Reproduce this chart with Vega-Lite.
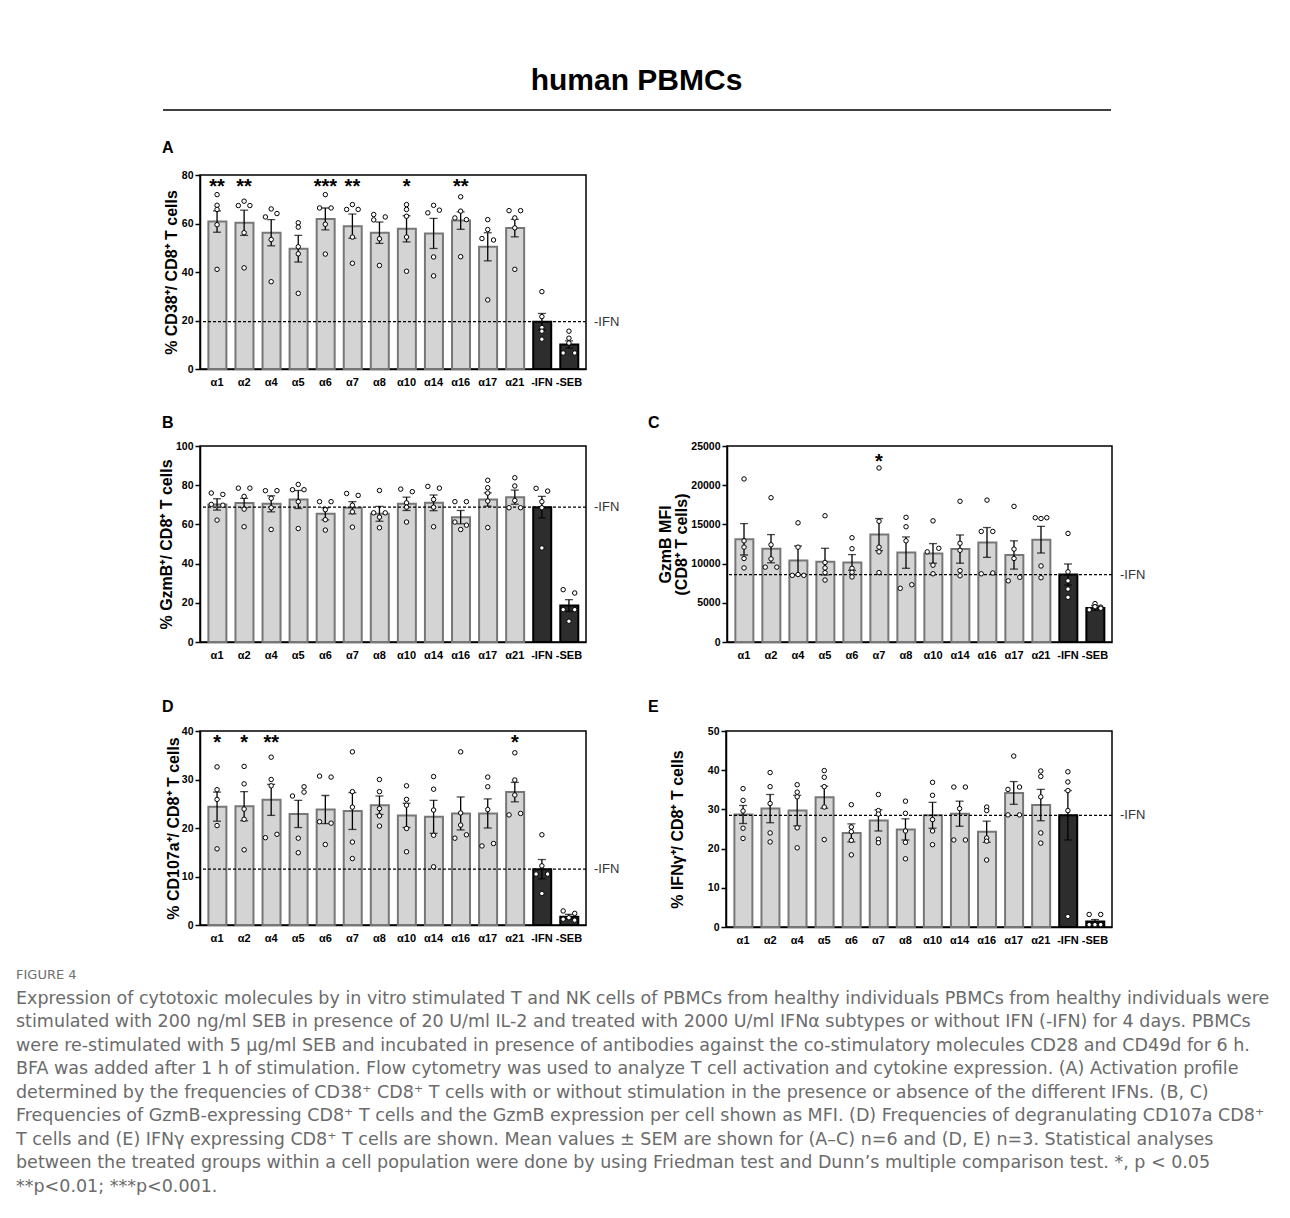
{
"$schema": "https://vega.github.io/schema/vega-lite/v6.json",
"autosize": {"type": "pad"},
"padding": {"left": 16, "top": 66, "right": 5, "bottom": 0},
"background": "#ffffff",
"config": {
  "font": "Liberation Sans",
  "view": {"stroke": "#000000", "strokeWidth": 1.5},
  "axis": {"grid": false, "domainColor": "#000000", "domainWidth": 1.5, "tickColor": "#000000", "tickWidth": 1.5, "labelColor": "#000000", "labelFont": "Liberation Sans", "labelFontWeight": "bold", "titleColor": "#000000", "titleFont": "Liberation Sans", "titleFontWeight": "bold", "labelOverlap": false},
  "axisX": {"ticks": false, "labelFontSize": 11, "labelPadding": 7, "labelAngle": 0},
  "axisY": {"tickSize": 5, "labelFontSize": 10.5, "labelPadding": 2, "titleFontSize": 16, "titleLineHeight": 16, "labelOverlap": false}
},
"datasets": {
"summary": [
{"panel":"A","group":"α1","mean":60.8,"sem":4.4,"sig":"**"},
{"panel":"A","group":"α2","mean":60.3,"sem":5.2,"sig":"**"},
{"panel":"A","group":"α4","mean":56.2,"sem":5.4,"sig":""},
{"panel":"A","group":"α5","mean":49.6,"sem":5.5,"sig":""},
{"panel":"A","group":"α6","mean":61.9,"sem":4.5,"sig":"***"},
{"panel":"A","group":"α7","mean":58.9,"sem":5.0,"sig":"**"},
{"panel":"A","group":"α8","mean":56.2,"sem":4.4,"sig":""},
{"panel":"A","group":"α10","mean":57.8,"sem":5.4,"sig":"*"},
{"panel":"A","group":"α14","mean":55.9,"sem":6.2,"sig":""},
{"panel":"A","group":"α16","mean":61.2,"sem":3.6,"sig":"**"},
{"panel":"A","group":"α17","mean":50.4,"sem":5.8,"sig":""},
{"panel":"A","group":"α21","mean":58.1,"sem":3.6,"sig":""},
{"panel":"A","group":"-IFN","mean":19.5,"sem":3.4,"sig":""},
{"panel":"A","group":"-SEB","mean":10.1,"sem":1.5,"sig":""},
{"panel":"B","group":"α1","mean":70.2,"sem":2.9,"sig":""},
{"panel":"B","group":"α2","mean":70.9,"sem":2.4,"sig":""},
{"panel":"B","group":"α4","mean":70.5,"sem":4.1,"sig":""},
{"panel":"B","group":"α5","mean":72.7,"sem":4.6,"sig":""},
{"panel":"B","group":"α6","mean":65.4,"sem":3.1,"sig":""},
{"panel":"B","group":"α7","mean":68.5,"sem":3.1,"sig":""},
{"panel":"B","group":"α8","mean":65.4,"sem":3.8,"sig":""},
{"panel":"B","group":"α10","mean":70.5,"sem":3.4,"sig":""},
{"panel":"B","group":"α14","mean":71.0,"sem":4.0,"sig":""},
{"panel":"B","group":"α16","mean":63.7,"sem":3.4,"sig":""},
{"panel":"B","group":"α17","mean":72.7,"sem":3.4,"sig":""},
{"panel":"B","group":"α21","mean":73.9,"sem":3.6,"sig":""},
{"panel":"B","group":"-IFN","mean":68.8,"sem":5.5,"sig":""},
{"panel":"B","group":"-SEB","mean":18.6,"sem":3.0,"sig":""},
{"panel":"C","group":"α1","mean":13100,"sem":2000,"sig":""},
{"panel":"C","group":"α2","mean":11900,"sem":1800,"sig":""},
{"panel":"C","group":"α4","mean":10400,"sem":1850,"sig":""},
{"panel":"C","group":"α5","mean":10250,"sem":1700,"sig":""},
{"panel":"C","group":"α6","mean":10150,"sem":1000,"sig":""},
{"panel":"C","group":"α7","mean":13700,"sem":2050,"sig":"*"},
{"panel":"C","group":"α8","mean":11400,"sem":2000,"sig":""},
{"panel":"C","group":"α10","mean":11300,"sem":1250,"sig":""},
{"panel":"C","group":"α14","mean":11850,"sem":1800,"sig":""},
{"panel":"C","group":"α16","mean":12700,"sem":1900,"sig":""},
{"panel":"C","group":"α17","mean":11100,"sem":1800,"sig":""},
{"panel":"C","group":"α21","mean":13050,"sem":1700,"sig":""},
{"panel":"C","group":"-IFN","mean":8600,"sem":1350,"sig":""},
{"panel":"C","group":"-SEB","mean":4350,"sem":300,"sig":""},
{"panel":"D","group":"α1","mean":24.4,"sem":3.0,"sig":"*"},
{"panel":"D","group":"α2","mean":24.5,"sem":3.0,"sig":"*"},
{"panel":"D","group":"α4","mean":25.8,"sem":3.2,"sig":"**"},
{"panel":"D","group":"α5","mean":22.9,"sem":2.8,"sig":""},
{"panel":"D","group":"α6","mean":23.8,"sem":2.9,"sig":""},
{"panel":"D","group":"α7","mean":23.5,"sem":3.8,"sig":""},
{"panel":"D","group":"α8","mean":24.7,"sem":1.9,"sig":""},
{"panel":"D","group":"α10","mean":22.6,"sem":2.5,"sig":""},
{"panel":"D","group":"α14","mean":22.3,"sem":3.4,"sig":""},
{"panel":"D","group":"α16","mean":23.0,"sem":3.4,"sig":""},
{"panel":"D","group":"α17","mean":23.0,"sem":3.0,"sig":""},
{"panel":"D","group":"α21","mean":27.4,"sem":2.0,"sig":"*"},
{"panel":"D","group":"-IFN","mean":11.5,"sem":2.0,"sig":""},
{"panel":"D","group":"-SEB","mean":1.7,"sem":0.5,"sig":""},
{"panel":"E","group":"α1","mean":28.7,"sem":2.3,"sig":""},
{"panel":"E","group":"α2","mean":30.2,"sem":3.6,"sig":""},
{"panel":"E","group":"α4","mean":29.7,"sem":3.9,"sig":""},
{"panel":"E","group":"α5","mean":33.1,"sem":2.8,"sig":""},
{"panel":"E","group":"α6","mean":24.0,"sem":2.3,"sig":""},
{"panel":"E","group":"α7","mean":27.2,"sem":2.7,"sig":""},
{"panel":"E","group":"α8","mean":24.9,"sem":2.7,"sig":""},
{"panel":"E","group":"α10","mean":28.5,"sem":3.3,"sig":""},
{"panel":"E","group":"α14","mean":28.9,"sem":3.2,"sig":""},
{"panel":"E","group":"α16","mean":24.3,"sem":2.7,"sig":""},
{"panel":"E","group":"α17","mean":34.2,"sem":2.9,"sig":""},
{"panel":"E","group":"α21","mean":31.1,"sem":4.0,"sig":""},
{"panel":"E","group":"-IFN","mean":28.5,"sem":6.3,"sig":""},
{"panel":"E","group":"-SEB","mean":1.4,"sem":0.5,"sig":""}
],
"points": [
{"panel":"A","group":"α1","value":71.9,"slot":"C"},{"panel":"A","group":"α1","value":67.5,"slot":"C"},{"panel":"A","group":"α1","value":65.8,"slot":"C"},{"panel":"A","group":"α1","value":59.5,"slot":"C"},{"panel":"A","group":"α1","value":41.1,"slot":"C"},
{"panel":"A","group":"α2","value":69.2,"slot":"C"},{"panel":"A","group":"α2","value":67.4,"slot":"L"},{"panel":"A","group":"α2","value":67.4,"slot":"R"},{"panel":"A","group":"α2","value":56.2,"slot":"C"},{"panel":"A","group":"α2","value":41.7,"slot":"C"},
{"panel":"A","group":"α4","value":66.0,"slot":"C"},{"panel":"A","group":"α4","value":64.1,"slot":"R"},{"panel":"A","group":"α4","value":62.7,"slot":"L"},{"panel":"A","group":"α4","value":53.4,"slot":"C"},{"panel":"A","group":"α4","value":36.0,"slot":"C"},
{"panel":"A","group":"α5","value":60.3,"slot":"C"},{"panel":"A","group":"α5","value":58.5,"slot":"C"},{"panel":"A","group":"α5","value":50.4,"slot":"C"},{"panel":"A","group":"α5","value":47.5,"slot":"C"},{"panel":"A","group":"α5","value":31.2,"slot":"C"},
{"panel":"A","group":"α6","value":71.9,"slot":"C"},{"panel":"A","group":"α6","value":66.4,"slot":"L"},{"panel":"A","group":"α6","value":66.4,"slot":"R"},{"panel":"A","group":"α6","value":59.7,"slot":"C"},{"panel":"A","group":"α6","value":47.4,"slot":"C"},
{"panel":"A","group":"α7","value":67.8,"slot":"C"},{"panel":"A","group":"α7","value":65.8,"slot":"L"},{"panel":"A","group":"α7","value":65.8,"slot":"R"},{"panel":"A","group":"α7","value":54.4,"slot":"C"},{"panel":"A","group":"α7","value":43.6,"slot":"C"},
{"panel":"A","group":"α8","value":63.7,"slot":"L"},{"panel":"A","group":"α8","value":61.5,"slot":"L"},{"panel":"A","group":"α8","value":62.7,"slot":"R"},{"panel":"A","group":"α8","value":53.7,"slot":"C"},{"panel":"A","group":"α8","value":42.7,"slot":"C"},
{"panel":"A","group":"α10","value":67.8,"slot":"C"},{"panel":"A","group":"α10","value":65.8,"slot":"C"},{"panel":"A","group":"α10","value":63.0,"slot":"C"},{"panel":"A","group":"α10","value":54.4,"slot":"C"},{"panel":"A","group":"α10","value":40.3,"slot":"C"},
{"panel":"A","group":"α14","value":67.5,"slot":"C"},{"panel":"A","group":"α14","value":65.5,"slot":"R"},{"panel":"A","group":"α14","value":64.4,"slot":"L"},{"panel":"A","group":"α14","value":46.2,"slot":"C"},{"panel":"A","group":"α14","value":38.4,"slot":"C"},
{"panel":"A","group":"α16","value":71.0,"slot":"C"},{"panel":"A","group":"α16","value":65.1,"slot":"C"},{"panel":"A","group":"α16","value":62.3,"slot":"L"},{"panel":"A","group":"α16","value":61.6,"slot":"R"},{"panel":"A","group":"α16","value":46.3,"slot":"C"},
{"panel":"A","group":"α17","value":61.6,"slot":"C"},{"panel":"A","group":"α17","value":57.5,"slot":"C"},{"panel":"A","group":"α17","value":53.8,"slot":"L"},{"panel":"A","group":"α17","value":53.2,"slot":"R"},{"panel":"A","group":"α17","value":28.5,"slot":"C"},
{"panel":"A","group":"α21","value":65.3,"slot":"L"},{"panel":"A","group":"α21","value":65.3,"slot":"R"},{"panel":"A","group":"α21","value":62.3,"slot":"C"},{"panel":"A","group":"α21","value":58.2,"slot":"C"},{"panel":"A","group":"α21","value":41.1,"slot":"C"},
{"panel":"A","group":"-IFN","value":31.9,"slot":"C"},{"panel":"A","group":"-IFN","value":21.6,"slot":"C"},{"panel":"A","group":"-IFN","value":17.1,"slot":"C"},{"panel":"A","group":"-IFN","value":15.6,"slot":"C"},{"panel":"A","group":"-IFN","value":12.3,"slot":"C"},
{"panel":"A","group":"-SEB","value":15.6,"slot":"C"},{"panel":"A","group":"-SEB","value":12.7,"slot":"C"},{"panel":"A","group":"-SEB","value":10.7,"slot":"C"},{"panel":"A","group":"-SEB","value":6.6,"slot":"L"},{"panel":"A","group":"-SEB","value":6.6,"slot":"R"},
{"panel":"B","group":"α1","value":76.0,"slot":"L"},{"panel":"B","group":"α1","value":75.3,"slot":"R"},{"panel":"B","group":"α1","value":70.2,"slot":"L"},{"panel":"B","group":"α1","value":69.8,"slot":"R"},{"panel":"B","group":"α1","value":62.2,"slot":"C"},
{"panel":"B","group":"α2","value":78.5,"slot":"L"},{"panel":"B","group":"α2","value":78.5,"slot":"R"},{"panel":"B","group":"α2","value":74.3,"slot":"C"},{"panel":"B","group":"α2","value":67.8,"slot":"C"},{"panel":"B","group":"α2","value":58.8,"slot":"C"},
{"panel":"B","group":"α4","value":77.2,"slot":"L"},{"panel":"B","group":"α4","value":77.2,"slot":"R"},{"panel":"B","group":"α4","value":73.3,"slot":"C"},{"panel":"B","group":"α4","value":68.5,"slot":"C"},{"panel":"B","group":"α4","value":57.4,"slot":"C"},
{"panel":"B","group":"α5","value":80.4,"slot":"C"},{"panel":"B","group":"α5","value":77.7,"slot":"L"},{"panel":"B","group":"α5","value":77.7,"slot":"R"},{"panel":"B","group":"α5","value":71.6,"slot":"C"},{"panel":"B","group":"α5","value":57.9,"slot":"C"},
{"panel":"B","group":"α6","value":71.6,"slot":"L"},{"panel":"B","group":"α6","value":71.6,"slot":"R"},{"panel":"B","group":"α6","value":67.5,"slot":"C"},{"panel":"B","group":"α6","value":62.4,"slot":"C"},{"panel":"B","group":"α6","value":57.1,"slot":"C"},
{"panel":"B","group":"α7","value":75.8,"slot":"L"},{"panel":"B","group":"α7","value":74.8,"slot":"R"},{"panel":"B","group":"α7","value":69.8,"slot":"C"},{"panel":"B","group":"α7","value":66.4,"slot":"C"},{"panel":"B","group":"α7","value":58.6,"slot":"C"},
{"panel":"B","group":"α8","value":77.3,"slot":"C"},{"panel":"B","group":"α8","value":65.9,"slot":"L"},{"panel":"B","group":"α8","value":65.9,"slot":"R"},{"panel":"B","group":"α8","value":63.7,"slot":"C"},{"panel":"B","group":"α8","value":58.3,"slot":"C"},
{"panel":"B","group":"α10","value":78.0,"slot":"L"},{"panel":"B","group":"α10","value":76.7,"slot":"R"},{"panel":"B","group":"α10","value":71.0,"slot":"C"},{"panel":"B","group":"α10","value":68.8,"slot":"C"},{"panel":"B","group":"α10","value":61.2,"slot":"C"},
{"panel":"B","group":"α14","value":79.4,"slot":"L"},{"panel":"B","group":"α14","value":78.5,"slot":"R"},{"panel":"B","group":"α14","value":72.7,"slot":"C"},{"panel":"B","group":"α14","value":68.8,"slot":"C"},{"panel":"B","group":"α14","value":58.8,"slot":"C"},
{"panel":"B","group":"α16","value":71.6,"slot":"L"},{"panel":"B","group":"α16","value":71.6,"slot":"R"},{"panel":"B","group":"α16","value":61.2,"slot":"L"},{"panel":"B","group":"α16","value":59.6,"slot":"R"},{"panel":"B","group":"α16","value":57.4,"slot":"C"},
{"panel":"B","group":"α17","value":82.5,"slot":"C"},{"panel":"B","group":"α17","value":78.7,"slot":"C"},{"panel":"B","group":"α17","value":76.0,"slot":"C"},{"panel":"B","group":"α17","value":71.9,"slot":"C"},{"panel":"B","group":"α17","value":58.4,"slot":"C"},
{"panel":"B","group":"α21","value":83.8,"slot":"C"},{"panel":"B","group":"α21","value":79.6,"slot":"C"},{"panel":"B","group":"α21","value":72.2,"slot":"C"},{"panel":"B","group":"α21","value":68.5,"slot":"L"},{"panel":"B","group":"α21","value":68.5,"slot":"R"},
{"panel":"B","group":"-IFN","value":78.4,"slot":"L"},{"panel":"B","group":"-IFN","value":77.0,"slot":"R"},{"panel":"B","group":"-IFN","value":71.6,"slot":"C"},{"panel":"B","group":"-IFN","value":68.5,"slot":"C"},{"panel":"B","group":"-IFN","value":48.0,"slot":"C"},
{"panel":"B","group":"-SEB","value":26.7,"slot":"L"},{"panel":"B","group":"-SEB","value":25.0,"slot":"R"},{"panel":"B","group":"-SEB","value":16.5,"slot":"L"},{"panel":"B","group":"-SEB","value":16.5,"slot":"R"},{"panel":"B","group":"-SEB","value":10.6,"slot":"C"},
{"panel":"C","group":"α1","value":20800,"slot":"C"},{"panel":"C","group":"α1","value":12900,"slot":"C"},{"panel":"C","group":"α1","value":12100,"slot":"C"},{"panel":"C","group":"α1","value":10650,"slot":"C"},{"panel":"C","group":"α1","value":9450,"slot":"C"},
{"panel":"C","group":"α2","value":18400,"slot":"C"},{"panel":"C","group":"α2","value":12400,"slot":"C"},{"panel":"C","group":"α2","value":10600,"slot":"C"},{"panel":"C","group":"α2","value":9550,"slot":"L"},{"panel":"C","group":"α2","value":9550,"slot":"R"},
{"panel":"C","group":"α4","value":15200,"slot":"C"},{"panel":"C","group":"α4","value":12100,"slot":"C"},{"panel":"C","group":"α4","value":8500,"slot":"L"},{"panel":"C","group":"α4","value":8600,"slot":"C"},{"panel":"C","group":"α4","value":8500,"slot":"R"},
{"panel":"C","group":"α5","value":16100,"slot":"C"},{"panel":"C","group":"α5","value":10150,"slot":"C"},{"panel":"C","group":"α5","value":9450,"slot":"C"},{"panel":"C","group":"α5","value":8850,"slot":"C"},{"panel":"C","group":"α5","value":7900,"slot":"C"},
{"panel":"C","group":"α6","value":13300,"slot":"C"},{"panel":"C","group":"α6","value":11900,"slot":"C"},{"panel":"C","group":"α6","value":9400,"slot":"C"},{"panel":"C","group":"α6","value":8900,"slot":"C"},{"panel":"C","group":"α6","value":8300,"slot":"C"},
{"panel":"C","group":"α7","value":22200,"slot":"C"},{"panel":"C","group":"α7","value":15400,"slot":"C"},{"panel":"C","group":"α7","value":12100,"slot":"C"},{"panel":"C","group":"α7","value":11500,"slot":"C"},{"panel":"C","group":"α7","value":8850,"slot":"C"},
{"panel":"C","group":"α8","value":15900,"slot":"C"},{"panel":"C","group":"α8","value":14700,"slot":"C"},{"panel":"C","group":"α8","value":12900,"slot":"C"},{"panel":"C","group":"α8","value":6850,"slot":"L"},{"panel":"C","group":"α8","value":7300,"slot":"R"},
{"panel":"C","group":"α10","value":15450,"slot":"C"},{"panel":"C","group":"α10","value":11500,"slot":"L"},{"panel":"C","group":"α10","value":11950,"slot":"R"},{"panel":"C","group":"α10","value":9800,"slot":"C"},{"panel":"C","group":"α10","value":8700,"slot":"C"},
{"panel":"C","group":"α14","value":17950,"slot":"C"},{"panel":"C","group":"α14","value":12600,"slot":"C"},{"panel":"C","group":"α14","value":11700,"slot":"C"},{"panel":"C","group":"α14","value":9100,"slot":"C"},{"panel":"C","group":"α14","value":8450,"slot":"C"},
{"panel":"C","group":"α16","value":18100,"slot":"C"},{"panel":"C","group":"α16","value":14100,"slot":"L"},{"panel":"C","group":"α16","value":14100,"slot":"R"},{"panel":"C","group":"α16","value":8700,"slot":"L"},{"panel":"C","group":"α16","value":8800,"slot":"R"},
{"panel":"C","group":"α17","value":17300,"slot":"C"},{"panel":"C","group":"α17","value":11850,"slot":"C"},{"panel":"C","group":"α17","value":10650,"slot":"C"},{"panel":"C","group":"α17","value":7800,"slot":"L"},{"panel":"C","group":"α17","value":8250,"slot":"R"},
{"panel":"C","group":"α21","value":15850,"slot":"L"},{"panel":"C","group":"α21","value":15750,"slot":"C"},{"panel":"C","group":"α21","value":15850,"slot":"R"},{"panel":"C","group":"α21","value":9700,"slot":"C"},{"panel":"C","group":"α21","value":8200,"slot":"C"},
{"panel":"C","group":"-IFN","value":13850,"slot":"C"},{"panel":"C","group":"-IFN","value":8950,"slot":"C"},{"panel":"C","group":"-IFN","value":7800,"slot":"C"},{"panel":"C","group":"-IFN","value":6750,"slot":"C"},{"panel":"C","group":"-IFN","value":5700,"slot":"C"},
{"panel":"C","group":"-SEB","value":4100,"slot":"L"},{"panel":"C","group":"-SEB","value":4900,"slot":"C"},{"panel":"C","group":"-SEB","value":4500,"slot":"C"},{"panel":"C","group":"-SEB","value":4450,"slot":"R"},{"panel":"C","group":"-SEB","value":4300,"slot":"R"},
{"panel":"D","group":"α1","value":32.6,"slot":"C"},{"panel":"D","group":"α1","value":27.9,"slot":"C"},{"panel":"D","group":"α1","value":25.9,"slot":"C"},{"panel":"D","group":"α1","value":20.5,"slot":"C"},{"panel":"D","group":"α1","value":15.7,"slot":"C"},
{"panel":"D","group":"α2","value":32.7,"slot":"C"},{"panel":"D","group":"α2","value":29.1,"slot":"C"},{"panel":"D","group":"α2","value":23.9,"slot":"C"},{"panel":"D","group":"α2","value":21.8,"slot":"C"},{"panel":"D","group":"α2","value":15.5,"slot":"C"},
{"panel":"D","group":"α4","value":34.6,"slot":"C"},{"panel":"D","group":"α4","value":30.0,"slot":"C"},{"panel":"D","group":"α4","value":28.7,"slot":"C"},{"panel":"D","group":"α4","value":18.0,"slot":"L"},{"panel":"D","group":"α4","value":18.7,"slot":"R"},
{"panel":"D","group":"α5","value":28.5,"slot":"R"},{"panel":"D","group":"α5","value":27.4,"slot":"R"},{"panel":"D","group":"α5","value":26.6,"slot":"L"},{"panel":"D","group":"α5","value":17.9,"slot":"C"},{"panel":"D","group":"α5","value":14.9,"slot":"C"},
{"panel":"D","group":"α6","value":30.7,"slot":"L"},{"panel":"D","group":"α6","value":30.5,"slot":"R"},{"panel":"D","group":"α6","value":21.3,"slot":"L"},{"panel":"D","group":"α6","value":21.0,"slot":"R"},{"panel":"D","group":"α6","value":16.6,"slot":"C"},
{"panel":"D","group":"α7","value":35.7,"slot":"C"},{"panel":"D","group":"α7","value":27.5,"slot":"C"},{"panel":"D","group":"α7","value":24.3,"slot":"C"},{"panel":"D","group":"α7","value":17.1,"slot":"C"},{"panel":"D","group":"α7","value":13.7,"slot":"C"},
{"panel":"D","group":"α8","value":30.0,"slot":"C"},{"panel":"D","group":"α8","value":27.5,"slot":"C"},{"panel":"D","group":"α8","value":24.0,"slot":"C"},{"panel":"D","group":"α8","value":22.5,"slot":"C"},{"panel":"D","group":"α8","value":20.4,"slot":"C"},
{"panel":"D","group":"α10","value":28.7,"slot":"C"},{"panel":"D","group":"α10","value":25.9,"slot":"C"},{"panel":"D","group":"α10","value":24.7,"slot":"C"},{"panel":"D","group":"α10","value":19.9,"slot":"C"},{"panel":"D","group":"α10","value":15.1,"slot":"C"},
{"panel":"D","group":"α14","value":30.6,"slot":"C"},{"panel":"D","group":"α14","value":28.0,"slot":"C"},{"panel":"D","group":"α14","value":23.7,"slot":"C"},{"panel":"D","group":"α14","value":18.5,"slot":"C"},{"panel":"D","group":"α14","value":12.0,"slot":"C"},
{"panel":"D","group":"α16","value":35.7,"slot":"C"},{"panel":"D","group":"α16","value":23.1,"slot":"C"},{"panel":"D","group":"α16","value":20.6,"slot":"C"},{"panel":"D","group":"α16","value":18.6,"slot":"R"},{"panel":"D","group":"α16","value":17.9,"slot":"L"},
{"panel":"D","group":"α17","value":30.5,"slot":"C"},{"panel":"D","group":"α17","value":28.5,"slot":"C"},{"panel":"D","group":"α17","value":23.8,"slot":"C"},{"panel":"D","group":"α17","value":16.3,"slot":"L"},{"panel":"D","group":"α17","value":16.8,"slot":"R"},
{"panel":"D","group":"α21","value":35.5,"slot":"C"},{"panel":"D","group":"α21","value":29.9,"slot":"C"},{"panel":"D","group":"α21","value":26.8,"slot":"C"},{"panel":"D","group":"α21","value":22.7,"slot":"L"},{"panel":"D","group":"α21","value":23.0,"slot":"R"},
{"panel":"D","group":"-IFN","value":18.6,"slot":"C"},{"panel":"D","group":"-IFN","value":12.2,"slot":"C"},{"panel":"D","group":"-IFN","value":10.5,"slot":"L"},{"panel":"D","group":"-IFN","value":10.5,"slot":"R"},{"panel":"D","group":"-IFN","value":6.5,"slot":"C"},
{"panel":"D","group":"-SEB","value":2.9,"slot":"L"},{"panel":"D","group":"-SEB","value":2.4,"slot":"R"},{"panel":"D","group":"-SEB","value":1.5,"slot":"C"},{"panel":"D","group":"-SEB","value":1.2,"slot":"L"},{"panel":"D","group":"-SEB","value":1.0,"slot":"R"},
{"panel":"E","group":"α1","value":35.3,"slot":"C"},{"panel":"E","group":"α1","value":32.3,"slot":"C"},{"panel":"E","group":"α1","value":29.6,"slot":"C"},{"panel":"E","group":"α1","value":25.2,"slot":"C"},{"panel":"E","group":"α1","value":22.6,"slot":"C"},
{"panel":"E","group":"α2","value":39.4,"slot":"C"},{"panel":"E","group":"α2","value":35.8,"slot":"C"},{"panel":"E","group":"α2","value":31.5,"slot":"C"},{"panel":"E","group":"α2","value":24.0,"slot":"C"},{"panel":"E","group":"α2","value":21.7,"slot":"C"},
{"panel":"E","group":"α4","value":36.3,"slot":"C"},{"panel":"E","group":"α4","value":34.4,"slot":"C"},{"panel":"E","group":"α4","value":33.2,"slot":"C"},{"panel":"E","group":"α4","value":25.3,"slot":"C"},{"panel":"E","group":"α4","value":20.2,"slot":"C"},
{"panel":"E","group":"α5","value":39.9,"slot":"C"},{"panel":"E","group":"α5","value":38.2,"slot":"C"},{"panel":"E","group":"α5","value":35.8,"slot":"C"},{"panel":"E","group":"α5","value":30.6,"slot":"C"},{"panel":"E","group":"α5","value":22.3,"slot":"C"},
{"panel":"E","group":"α6","value":31.2,"slot":"C"},{"panel":"E","group":"α6","value":25.5,"slot":"C"},{"panel":"E","group":"α6","value":24.3,"slot":"C"},{"panel":"E","group":"α6","value":22.1,"slot":"C"},{"panel":"E","group":"α6","value":18.4,"slot":"C"},
{"panel":"E","group":"α7","value":33.8,"slot":"C"},{"panel":"E","group":"α7","value":29.7,"slot":"C"},{"panel":"E","group":"α7","value":28.8,"slot":"C"},{"panel":"E","group":"α7","value":22.4,"slot":"C"},{"panel":"E","group":"α7","value":21.5,"slot":"C"},
{"panel":"E","group":"α8","value":32.1,"slot":"C"},{"panel":"E","group":"α8","value":29.0,"slot":"C"},{"panel":"E","group":"α8","value":24.5,"slot":"C"},{"panel":"E","group":"α8","value":21.6,"slot":"C"},{"panel":"E","group":"α8","value":17.4,"slot":"C"},
{"panel":"E","group":"α10","value":36.9,"slot":"C"},{"panel":"E","group":"α10","value":33.6,"slot":"C"},{"panel":"E","group":"α10","value":27.4,"slot":"C"},{"panel":"E","group":"α10","value":24.5,"slot":"C"},{"panel":"E","group":"α10","value":21.0,"slot":"C"},
{"panel":"E","group":"α14","value":35.7,"slot":"L"},{"panel":"E","group":"α14","value":35.7,"slot":"R"},{"panel":"E","group":"α14","value":30.2,"slot":"C"},{"panel":"E","group":"α14","value":22.2,"slot":"L"},{"panel":"E","group":"α14","value":22.2,"slot":"R"},
{"panel":"E","group":"α16","value":30.6,"slot":"C"},{"panel":"E","group":"α16","value":29.7,"slot":"C"},{"panel":"E","group":"α16","value":22.7,"slot":"C"},{"panel":"E","group":"α16","value":21.9,"slot":"C"},{"panel":"E","group":"α16","value":17.1,"slot":"C"},
{"panel":"E","group":"α17","value":43.6,"slot":"C"},{"panel":"E","group":"α17","value":35.1,"slot":"L"},{"panel":"E","group":"α17","value":35.7,"slot":"R"},{"panel":"E","group":"α17","value":28.6,"slot":"L"},{"panel":"E","group":"α17","value":28.6,"slot":"R"},
{"panel":"E","group":"α21","value":39.8,"slot":"C"},{"panel":"E","group":"α21","value":38.4,"slot":"C"},{"panel":"E","group":"α21","value":33.2,"slot":"C"},{"panel":"E","group":"α21","value":24.0,"slot":"C"},{"panel":"E","group":"α21","value":21.4,"slot":"C"},
{"panel":"E","group":"-IFN","value":39.6,"slot":"C"},{"panel":"E","group":"-IFN","value":37.0,"slot":"C"},{"panel":"E","group":"-IFN","value":34.8,"slot":"C"},{"panel":"E","group":"-IFN","value":29.7,"slot":"C"},{"panel":"E","group":"-IFN","value":2.7,"slot":"C"},
{"panel":"E","group":"-SEB","value":3.2,"slot":"L"},{"panel":"E","group":"-SEB","value":3.2,"slot":"R"},{"panel":"E","group":"-SEB","value":0.6,"slot":"L"},{"panel":"E","group":"-SEB","value":0.6,"slot":"C"},{"panel":"E","group":"-SEB","value":0.6,"slot":"R"}
],
"caption": [
{"line":0,"text":"FIGURE 4"},
{"line":1,"text":"Expression of cytotoxic molecules by in vitro stimulated T and NK cells of PBMCs from healthy individuals PBMCs from healthy individuals were"},
{"line":2,"text":"stimulated with 200 ng/ml SEB in presence of 20 U/ml IL-2 and treated with 2000 U/ml IFNα subtypes or without IFN (-IFN) for 4 days. PBMCs"},
{"line":3,"text":"were re-stimulated with 5 µg/ml SEB and incubated in presence of antibodies against the co-stimulatory molecules CD28 and CD49d for 6 h."},
{"line":4,"text":"BFA was added after 1 h of stimulation. Flow cytometry was used to analyze T cell activation and cytokine expression. (A) Activation profile"},
{"line":5,"text":"determined by the frequencies of CD38⁺ CD8⁺ T cells with or without stimulation in the presence or absence of the different IFNs. (B, C)"},
{"line":6,"text":"Frequencies of GzmB-expressing CD8⁺ T cells and the GzmB expression per cell shown as MFI. (D) Frequencies of degranulating CD107a CD8⁺"},
{"line":7,"text":"T cells and (E) IFNγ expressing CD8⁺ T cells are shown. Mean values ± SEM are shown for (A–C) n=6 and (D, E) n=3. Statistical analyses"},
{"line":8,"text":"between the treated groups within a cell population were done by using Friedman test and Dunn’s multiple comparison test. *, p < 0.05"},
{"line":9,"text":"**p<0.01; ***p<0.001."}
]
},
"spacing": 23,
"vconcat": [
{
 "width": 911, "height": 14,
 "view": {"stroke": null},
 "title": {"text": "human PBMCs", "anchor": "middle", "frame": "group", "dx": -19, "offset": 6, "fontSize": 30, "fontWeight": "bold", "font": "Liberation Sans", "color": "#000000"},
 "data": {"values": [{"k": 1}]},
 "mark": {"type": "rule", "color": "#000000", "strokeWidth": 1.5},
 "encoding": {
  "x": {"datum": -0.0406, "type": "quantitative", "scale": {"domain": [0, 1], "nice": false, "zero": false}, "axis": null},
  "x2": {"datum": 1},
  "y": {"datum": 0.43, "type": "quantitative", "scale": {"domain": [0, 1], "nice": false}, "axis": null}
 }
},
{
 "width": 386, "height": 194,
 "title": {"text": "A", "anchor": "start", "frame": "group", "dx": -38, "offset": 14, "fontSize": 16, "fontWeight": "bold", "font": "Liberation Sans", "color": "#000000"},
 "layer": [
  {"data": {"name": "summary"}, "transform": [{"filter": "datum.panel === 'A'"}],
   "mark": {"type": "bar", "strokeWidth": 2},
   "encoding": {
    "x": {"field": "group", "type": "nominal", "sort": ["α1","α2","α4","α5","α6","α7","α8","α10","α14","α16","α17","α21","-IFN","-SEB"], "title": " ", "axis": {"titleFontSize": 2, "titlePadding": 1}, "scale": {"paddingInner": 0.36, "paddingOuter": 0.31}},
    "y": {"field": "mean", "type": "quantitative", "title": "% CD38⁺/ CD8⁺ T cells", "scale": {"domain": [0, 80], "nice": false}, "axis": {"values": [0, 20, 40, 60, 80], "titlePadding": 2, "labelOverlap": false}},
    "fill": {"condition": {"test": "datum.group === '-IFN' || datum.group === '-SEB'", "value": "#2d2d2d"}, "value": "#d4d4d4"},
    "stroke": {"condition": {"test": "datum.group === '-IFN' || datum.group === '-SEB'", "value": "#000000"}, "value": "#777777"}
   }},
  {"data": {"name": "summary"}, "transform": [{"filter": "datum.panel === 'A'"}],
   "mark": {"type": "errorbar", "ticks": true, "size": 8, "thickness": 1.3, "color": "#000000"},
   "encoding": {
    "x": {"field": "group", "type": "nominal", "sort": ["α1","α2","α4","α5","α6","α7","α8","α10","α14","α16","α17","α21","-IFN","-SEB"], "title": " ", "axis": {"titleFontSize": 2, "titlePadding": 1}, "scale": {"paddingInner": 0.36, "paddingOuter": 0.31}},
    "y": {"field": "mean", "type": "quantitative", "title": "% CD38⁺/ CD8⁺ T cells", "axis": {"values": [0, 20, 40, 60, 80], "titlePadding": 2, "labelOverlap": false}},
    "yError": {"field": "sem"}
   }},
  {"data": {"name": "summary"}, "transform": [{"filter": "datum.panel === 'A' && datum.group === '-IFN'"}],
   "mark": {"type": "rule", "strokeDash": [3, 2], "color": "#000000", "strokeWidth": 1.2},
   "encoding": {"y": {"field": "mean", "type": "quantitative", "title": "% CD38⁺/ CD8⁺ T cells", "axis": {"values": [0, 20, 40, 60, 80], "titlePadding": 2, "labelOverlap": false}}}},
  {"data": {"name": "points"}, "transform": [{"filter": "datum.panel === 'A'"}],
   "mark": {"type": "point", "shape": "circle", "filled": true, "fill": "#ffffff", "stroke": "#000000", "strokeWidth": 1, "size": 20, "opacity": 1},
   "encoding": {
    "x": {"field": "group", "type": "nominal", "sort": ["α1","α2","α4","α5","α6","α7","α8","α10","α14","α16","α17","α21","-IFN","-SEB"], "title": " ", "axis": {"titleFontSize": 2, "titlePadding": 1}, "scale": {"paddingInner": 0.36, "paddingOuter": 0.31}},
    "xOffset": {"field": "slot", "type": "nominal", "scale": {"domain": ["L", "C", "R"], "paddingInner": 0, "paddingOuter": 0.5}},
    "y": {"field": "value", "type": "quantitative", "title": "% CD38⁺/ CD8⁺ T cells", "axis": {"values": [0, 20, 40, 60, 80], "titlePadding": 2, "labelOverlap": false}}
   }},
  {"data": {"name": "summary"}, "transform": [{"filter": "datum.panel === 'A' && datum.group === '-IFN'"}],
   "mark": {"type": "text", "align": "left", "baseline": "middle", "dx": 8, "fontSize": 13, "color": "#333333"},
   "encoding": {"x": {"value": "width"}, "y": {"field": "mean", "type": "quantitative", "title": "% CD38⁺/ CD8⁺ T cells", "axis": {"values": [0, 20, 40, 60, 80], "titlePadding": 2, "labelOverlap": false}}, "text": {"value": "-IFN"}}},
  {"data": {"name": "summary"}, "transform": [{"filter": "datum.panel === 'A' && datum.sig !== ''"}],
   "mark": {"type": "text", "baseline": "middle", "fontSize": 20, "fontWeight": "bold", "color": "#000000"},
   "encoding": {
    "x": {"field": "group", "type": "nominal", "sort": ["α1","α2","α4","α5","α6","α7","α8","α10","α14","α16","α17","α21","-IFN","-SEB"], "title": " ", "axis": {"titleFontSize": 2, "titlePadding": 1}, "scale": {"paddingInner": 0.36, "paddingOuter": 0.31}},
    "y": {"datum": 75, "type": "quantitative", "title": "% CD38⁺/ CD8⁺ T cells", "axis": {"values": [0, 20, 40, 60, 80], "titlePadding": 2, "labelOverlap": false}},
    "text": {"field": "sig"}
   }}
 ]
},
{
 "hconcat": [
  {
   "width": 386, "height": 196,
   "title": {"text": "B", "anchor": "start", "frame": "group", "dx": -38, "offset": 10, "fontSize": 16, "fontWeight": "bold", "font": "Liberation Sans", "color": "#000000"},
   "layer": [
    {"data": {"name": "summary"}, "transform": [{"filter": "datum.panel === 'B'"}],
     "mark": {"type": "bar", "strokeWidth": 2},
     "encoding": {
      "x": {"field": "group", "type": "nominal", "sort": ["α1","α2","α4","α5","α6","α7","α8","α10","α14","α16","α17","α21","-IFN","-SEB"], "title": " ", "axis": {"titleFontSize": 8, "titlePadding": 6}, "scale": {"paddingInner": 0.36, "paddingOuter": 0.31}},
      "y": {"field": "mean", "type": "quantitative", "title": "% GzmB⁺/ CD8⁺ T cells", "scale": {"domain": [0, 100], "nice": false}, "axis": {"values": [0, 20, 40, 60, 80, 100], "titlePadding": 1, "labelOverlap": false}},
      "fill": {"condition": {"test": "datum.group === '-IFN' || datum.group === '-SEB'", "value": "#2d2d2d"}, "value": "#d4d4d4"},
      "stroke": {"condition": {"test": "datum.group === '-IFN' || datum.group === '-SEB'", "value": "#000000"}, "value": "#777777"}
     }},
    {"data": {"name": "summary"}, "transform": [{"filter": "datum.panel === 'B'"}],
     "mark": {"type": "errorbar", "ticks": true, "size": 8, "thickness": 1.3, "color": "#000000"},
     "encoding": {
      "x": {"field": "group", "type": "nominal", "sort": ["α1","α2","α4","α5","α6","α7","α8","α10","α14","α16","α17","α21","-IFN","-SEB"], "title": " ", "axis": {"titleFontSize": 8, "titlePadding": 6}, "scale": {"paddingInner": 0.36, "paddingOuter": 0.31}},
      "y": {"field": "mean", "type": "quantitative", "title": "% GzmB⁺/ CD8⁺ T cells", "axis": {"values": [0, 20, 40, 60, 80, 100], "titlePadding": 1, "labelOverlap": false}},
      "yError": {"field": "sem"}
     }},
    {"data": {"name": "summary"}, "transform": [{"filter": "datum.panel === 'B' && datum.group === '-IFN'"}],
     "mark": {"type": "rule", "strokeDash": [3, 2], "color": "#000000", "strokeWidth": 1.2},
     "encoding": {"y": {"field": "mean", "type": "quantitative", "title": "% GzmB⁺/ CD8⁺ T cells", "axis": {"values": [0, 20, 40, 60, 80, 100], "titlePadding": 1, "labelOverlap": false}}}},
    {"data": {"name": "points"}, "transform": [{"filter": "datum.panel === 'B'"}],
     "mark": {"type": "point", "shape": "circle", "filled": true, "fill": "#ffffff", "stroke": "#000000", "strokeWidth": 1, "size": 20, "opacity": 1},
     "encoding": {
      "x": {"field": "group", "type": "nominal", "sort": ["α1","α2","α4","α5","α6","α7","α8","α10","α14","α16","α17","α21","-IFN","-SEB"], "title": " ", "axis": {"titleFontSize": 8, "titlePadding": 6}, "scale": {"paddingInner": 0.36, "paddingOuter": 0.31}},
      "xOffset": {"field": "slot", "type": "nominal", "scale": {"domain": ["L", "C", "R"], "paddingInner": 0, "paddingOuter": 0.5}},
      "y": {"field": "value", "type": "quantitative", "title": "% GzmB⁺/ CD8⁺ T cells", "axis": {"values": [0, 20, 40, 60, 80, 100], "titlePadding": 1, "labelOverlap": false}}
     }},
    {"data": {"name": "summary"}, "transform": [{"filter": "datum.panel === 'B' && datum.group === '-IFN'"}],
     "mark": {"type": "text", "align": "left", "baseline": "middle", "dx": 8, "fontSize": 13, "color": "#333333"},
     "encoding": {"x": {"value": "width"}, "y": {"field": "mean", "type": "quantitative", "title": "% GzmB⁺/ CD8⁺ T cells", "axis": {"values": [0, 20, 40, 60, 80, 100], "titlePadding": 1, "labelOverlap": false}}, "text": {"value": "-IFN"}}}
   ]
  },
  {
   "width": 385, "height": 196,
   "title": {"text": "C", "anchor": "start", "frame": "group", "dx": -79, "offset": 10, "fontSize": 16, "fontWeight": "bold", "font": "Liberation Sans", "color": "#000000"},
   "layer": [
    {"data": {"name": "summary"}, "transform": [{"filter": "datum.panel === 'C'"}],
     "mark": {"type": "bar", "strokeWidth": 2},
     "encoding": {
      "x": {"field": "group", "type": "nominal", "sort": ["α1","α2","α4","α5","α6","α7","α8","α10","α14","α16","α17","α21","-IFN","-SEB"], "title": " ", "axis": {"titleFontSize": 8, "titlePadding": 6}, "scale": {"paddingInner": 0.36, "paddingOuter": 0.31}},
      "y": {"field": "mean", "type": "quantitative", "title": ["GzmB MFI", "(CD8⁺ T cells)"], "scale": {"domain": [0, 25000], "nice": false}, "axis": {"values": [0, 5000, 10000, 15000, 20000, 25000], "format": "d", "titlePadding": 1, "labelOverlap": false}},
      "fill": {"condition": {"test": "datum.group === '-IFN' || datum.group === '-SEB'", "value": "#2d2d2d"}, "value": "#d4d4d4"},
      "stroke": {"condition": {"test": "datum.group === '-IFN' || datum.group === '-SEB'", "value": "#000000"}, "value": "#777777"}
     }},
    {"data": {"name": "summary"}, "transform": [{"filter": "datum.panel === 'C'"}],
     "mark": {"type": "errorbar", "ticks": true, "size": 8, "thickness": 1.3, "color": "#000000"},
     "encoding": {
      "x": {"field": "group", "type": "nominal", "sort": ["α1","α2","α4","α5","α6","α7","α8","α10","α14","α16","α17","α21","-IFN","-SEB"], "title": " ", "axis": {"titleFontSize": 8, "titlePadding": 6}, "scale": {"paddingInner": 0.36, "paddingOuter": 0.31}},
      "y": {"field": "mean", "type": "quantitative", "title": ["GzmB MFI", "(CD8⁺ T cells)"], "axis": {"values": [0, 5000, 10000, 15000, 20000, 25000], "format": "d", "titlePadding": 1, "labelOverlap": false}},
      "yError": {"field": "sem"}
     }},
    {"data": {"name": "summary"}, "transform": [{"filter": "datum.panel === 'C' && datum.group === '-IFN'"}],
     "mark": {"type": "rule", "strokeDash": [3, 2], "color": "#000000", "strokeWidth": 1.2},
     "encoding": {"y": {"field": "mean", "type": "quantitative", "title": ["GzmB MFI", "(CD8⁺ T cells)"], "axis": {"values": [0, 5000, 10000, 15000, 20000, 25000], "format": "d", "titlePadding": 1, "labelOverlap": false}}}},
    {"data": {"name": "points"}, "transform": [{"filter": "datum.panel === 'C'"}],
     "mark": {"type": "point", "shape": "circle", "filled": true, "fill": "#ffffff", "stroke": "#000000", "strokeWidth": 1, "size": 20, "opacity": 1},
     "encoding": {
      "x": {"field": "group", "type": "nominal", "sort": ["α1","α2","α4","α5","α6","α7","α8","α10","α14","α16","α17","α21","-IFN","-SEB"], "title": " ", "axis": {"titleFontSize": 8, "titlePadding": 6}, "scale": {"paddingInner": 0.36, "paddingOuter": 0.31}},
      "xOffset": {"field": "slot", "type": "nominal", "scale": {"domain": ["L", "C", "R"], "paddingInner": 0, "paddingOuter": 0.5}},
      "y": {"field": "value", "type": "quantitative", "title": ["GzmB MFI", "(CD8⁺ T cells)"], "axis": {"values": [0, 5000, 10000, 15000, 20000, 25000], "format": "d", "titlePadding": 1, "labelOverlap": false}}
     }},
    {"data": {"name": "summary"}, "transform": [{"filter": "datum.panel === 'C' && datum.group === '-IFN'"}],
     "mark": {"type": "text", "align": "left", "baseline": "middle", "dx": 8, "fontSize": 13, "color": "#333333"},
     "encoding": {"x": {"value": "width"}, "y": {"field": "mean", "type": "quantitative", "title": ["GzmB MFI", "(CD8⁺ T cells)"], "axis": {"values": [0, 5000, 10000, 15000, 20000, 25000], "format": "d", "titlePadding": 1, "labelOverlap": false}}, "text": {"value": "-IFN"}}},
    {"data": {"name": "summary"}, "transform": [{"filter": "datum.panel === 'C' && datum.sig !== ''"}],
     "mark": {"type": "text", "baseline": "middle", "fontSize": 20, "fontWeight": "bold", "color": "#000000"},
     "encoding": {
      "x": {"field": "group", "type": "nominal", "sort": ["α1","α2","α4","α5","α6","α7","α8","α10","α14","α16","α17","α21","-IFN","-SEB"], "title": " ", "axis": {"titleFontSize": 8, "titlePadding": 6}, "scale": {"paddingInner": 0.36, "paddingOuter": 0.31}},
      "y": {"datum": 23000, "type": "quantitative", "title": ["GzmB MFI", "(CD8⁺ T cells)"], "axis": {"values": [0, 5000, 10000, 15000, 20000, 25000], "format": "d", "titlePadding": 1, "labelOverlap": false}},
      "text": {"field": "sig"}
     }}
   ]
  }
 ],
 "spacing": 141,
 "bounds": "flush"
},
{
 "hconcat": [
  {
   "width": 386, "height": 194,
   "title": {"text": "D", "anchor": "start", "frame": "group", "dx": -38, "offset": 11, "fontSize": 16, "fontWeight": "bold", "font": "Liberation Sans", "color": "#000000"},
   "layer": [
    {"data": {"name": "summary"}, "transform": [{"filter": "datum.panel === 'D'"}],
     "mark": {"type": "bar", "strokeWidth": 2},
     "encoding": {
      "x": {"field": "group", "type": "nominal", "sort": ["α1","α2","α4","α5","α6","α7","α8","α10","α14","α16","α17","α21","-IFN","-SEB"], "title": null, "scale": {"paddingInner": 0.36, "paddingOuter": 0.31}},
      "y": {"field": "mean", "type": "quantitative", "title": "% CD107a⁺/ CD8⁺ T cells", "scale": {"domain": [0, 40], "nice": false}, "axis": {"values": [0, 10, 20, 30, 40], "titlePadding": 0, "labelOverlap": false}},
      "fill": {"condition": {"test": "datum.group === '-IFN' || datum.group === '-SEB'", "value": "#2d2d2d"}, "value": "#d4d4d4"},
      "stroke": {"condition": {"test": "datum.group === '-IFN' || datum.group === '-SEB'", "value": "#000000"}, "value": "#777777"}
     }},
    {"data": {"name": "summary"}, "transform": [{"filter": "datum.panel === 'D'"}],
     "mark": {"type": "errorbar", "ticks": true, "size": 8, "thickness": 1.3, "color": "#000000"},
     "encoding": {
      "x": {"field": "group", "type": "nominal", "sort": ["α1","α2","α4","α5","α6","α7","α8","α10","α14","α16","α17","α21","-IFN","-SEB"], "title": null, "scale": {"paddingInner": 0.36, "paddingOuter": 0.31}},
      "y": {"field": "mean", "type": "quantitative", "title": "% CD107a⁺/ CD8⁺ T cells", "axis": {"values": [0, 10, 20, 30, 40], "titlePadding": 0, "labelOverlap": false}},
      "yError": {"field": "sem"}
     }},
    {"data": {"name": "summary"}, "transform": [{"filter": "datum.panel === 'D' && datum.group === '-IFN'"}],
     "mark": {"type": "rule", "strokeDash": [3, 2], "color": "#000000", "strokeWidth": 1.2},
     "encoding": {"y": {"field": "mean", "type": "quantitative", "title": "% CD107a⁺/ CD8⁺ T cells", "axis": {"values": [0, 10, 20, 30, 40], "titlePadding": 0, "labelOverlap": false}}}},
    {"data": {"name": "points"}, "transform": [{"filter": "datum.panel === 'D'"}],
     "mark": {"type": "point", "shape": "circle", "filled": true, "fill": "#ffffff", "stroke": "#000000", "strokeWidth": 1, "size": 20, "opacity": 1},
     "encoding": {
      "x": {"field": "group", "type": "nominal", "sort": ["α1","α2","α4","α5","α6","α7","α8","α10","α14","α16","α17","α21","-IFN","-SEB"], "title": null, "scale": {"paddingInner": 0.36, "paddingOuter": 0.31}},
      "xOffset": {"field": "slot", "type": "nominal", "scale": {"domain": ["L", "C", "R"], "paddingInner": 0, "paddingOuter": 0.5}},
      "y": {"field": "value", "type": "quantitative", "title": "% CD107a⁺/ CD8⁺ T cells", "axis": {"values": [0, 10, 20, 30, 40], "titlePadding": 0, "labelOverlap": false}}
     }},
    {"data": {"name": "summary"}, "transform": [{"filter": "datum.panel === 'D' && datum.group === '-IFN'"}],
     "mark": {"type": "text", "align": "left", "baseline": "middle", "dx": 8, "fontSize": 13, "color": "#333333"},
     "encoding": {"x": {"value": "width"}, "y": {"field": "mean", "type": "quantitative", "title": "% CD107a⁺/ CD8⁺ T cells", "axis": {"values": [0, 10, 20, 30, 40], "titlePadding": 0, "labelOverlap": false}}, "text": {"value": "-IFN"}}},
    {"data": {"name": "summary"}, "transform": [{"filter": "datum.panel === 'D' && datum.sig !== ''"}],
     "mark": {"type": "text", "baseline": "middle", "fontSize": 20, "fontWeight": "bold", "color": "#000000"},
     "encoding": {
      "x": {"field": "group", "type": "nominal", "sort": ["α1","α2","α4","α5","α6","α7","α8","α10","α14","α16","α17","α21","-IFN","-SEB"], "title": null, "scale": {"paddingInner": 0.36, "paddingOuter": 0.31}},
      "y": {"datum": 37.5, "type": "quantitative", "title": "% CD107a⁺/ CD8⁺ T cells", "axis": {"values": [0, 10, 20, 30, 40], "titlePadding": 0, "labelOverlap": false}},
      "text": {"field": "sig"}
     }}
   ]
  },
  {
   "width": 386, "height": 196,
   "title": {"text": "E", "anchor": "start", "frame": "group", "dx": -78, "offset": 11, "fontSize": 16, "fontWeight": "bold", "font": "Liberation Sans", "color": "#000000"},
   "layer": [
    {"data": {"name": "summary"}, "transform": [{"filter": "datum.panel === 'E'"}],
     "mark": {"type": "bar", "strokeWidth": 2},
     "encoding": {
      "x": {"field": "group", "type": "nominal", "sort": ["α1","α2","α4","α5","α6","α7","α8","α10","α14","α16","α17","α21","-IFN","-SEB"], "title": null, "scale": {"paddingInner": 0.36, "paddingOuter": 0.31}},
      "y": {"field": "mean", "type": "quantitative", "title": "% IFNγ⁺/ CD8⁺ T cells", "scale": {"domain": [0, 50], "nice": false}, "axis": {"values": [0, 10, 20, 30, 40, 50], "titlePadding": 22, "labelOverlap": false}},
      "fill": {"condition": {"test": "datum.group === '-IFN' || datum.group === '-SEB'", "value": "#2d2d2d"}, "value": "#d4d4d4"},
      "stroke": {"condition": {"test": "datum.group === '-IFN' || datum.group === '-SEB'", "value": "#000000"}, "value": "#777777"}
     }},
    {"data": {"name": "summary"}, "transform": [{"filter": "datum.panel === 'E'"}],
     "mark": {"type": "errorbar", "ticks": true, "size": 8, "thickness": 1.3, "color": "#000000"},
     "encoding": {
      "x": {"field": "group", "type": "nominal", "sort": ["α1","α2","α4","α5","α6","α7","α8","α10","α14","α16","α17","α21","-IFN","-SEB"], "title": null, "scale": {"paddingInner": 0.36, "paddingOuter": 0.31}},
      "y": {"field": "mean", "type": "quantitative", "title": "% IFNγ⁺/ CD8⁺ T cells", "axis": {"values": [0, 10, 20, 30, 40, 50], "titlePadding": 22, "labelOverlap": false}},
      "yError": {"field": "sem"}
     }},
    {"data": {"name": "summary"}, "transform": [{"filter": "datum.panel === 'E' && datum.group === '-IFN'"}],
     "mark": {"type": "rule", "strokeDash": [3, 2], "color": "#000000", "strokeWidth": 1.2},
     "encoding": {"y": {"field": "mean", "type": "quantitative", "title": "% IFNγ⁺/ CD8⁺ T cells", "axis": {"values": [0, 10, 20, 30, 40, 50], "titlePadding": 22, "labelOverlap": false}}}},
    {"data": {"name": "points"}, "transform": [{"filter": "datum.panel === 'E'"}],
     "mark": {"type": "point", "shape": "circle", "filled": true, "fill": "#ffffff", "stroke": "#000000", "strokeWidth": 1, "size": 20, "opacity": 1},
     "encoding": {
      "x": {"field": "group", "type": "nominal", "sort": ["α1","α2","α4","α5","α6","α7","α8","α10","α14","α16","α17","α21","-IFN","-SEB"], "title": null, "scale": {"paddingInner": 0.36, "paddingOuter": 0.31}},
      "xOffset": {"field": "slot", "type": "nominal", "scale": {"domain": ["L", "C", "R"], "paddingInner": 0, "paddingOuter": 0.5}},
      "y": {"field": "value", "type": "quantitative", "title": "% IFNγ⁺/ CD8⁺ T cells", "axis": {"values": [0, 10, 20, 30, 40, 50], "titlePadding": 22, "labelOverlap": false}}
     }},
    {"data": {"name": "summary"}, "transform": [{"filter": "datum.panel === 'E' && datum.group === '-IFN'"}],
     "mark": {"type": "text", "align": "left", "baseline": "middle", "dx": 8, "fontSize": 13, "color": "#333333"},
     "encoding": {"x": {"value": "width"}, "y": {"field": "mean", "type": "quantitative", "title": "% IFNγ⁺/ CD8⁺ T cells", "axis": {"values": [0, 10, 20, 30, 40, 50], "titlePadding": 22, "labelOverlap": false}}, "text": {"value": "-IFN"}}}
   ]
  }
 ],
 "spacing": 140,
 "bounds": "flush"
},
{
 "width": 900, "height": 211.5,
 "view": {"stroke": null},
 "data": {"name": "caption"},
 "mark": {"type": "text", "align": "left", "baseline": "middle", "dx": -184, "font": "DejaVu Sans"},
 "encoding": {
  "x": {"datum": 0, "type": "quantitative", "scale": {"domain": [0, 1]}, "axis": null},
  "y": {"field": "line", "type": "ordinal", "scale": {"type": "point", "padding": 0}, "axis": null},
  "text": {"field": "text"},
  "size": {"condition": {"test": "datum.line === 0", "value": 13}, "value": 17.5},
  "color": {"condition": {"test": "datum.line === 0", "value": "#707070"}, "value": "#6b6b6b"}
 }
}
]
}
